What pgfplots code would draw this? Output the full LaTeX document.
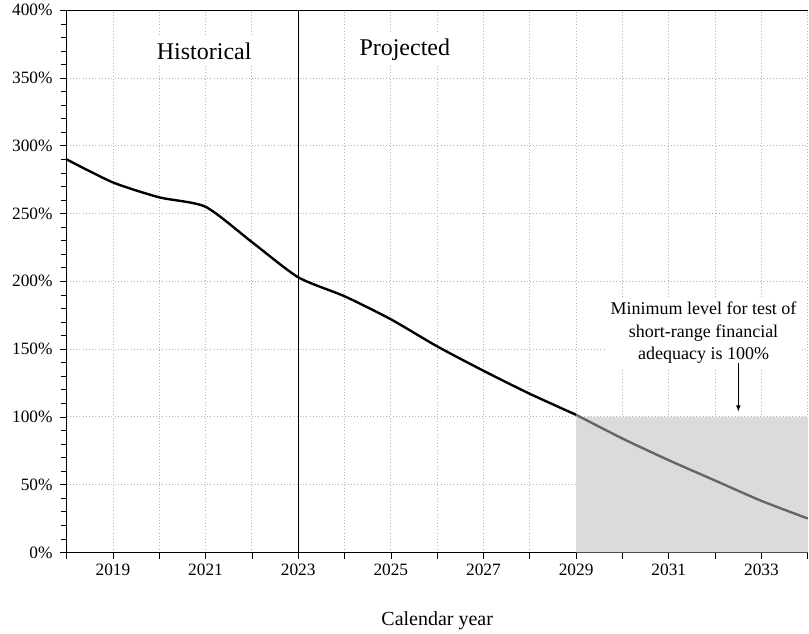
\documentclass[border=0pt]{standalone}
\usepackage{pgfplots}
\pgfplotsset{compat=1.18}
\usepackage{fontspec}
\setmainfont{Liberation Serif}

\begin{document}
\begin{tikzpicture}
\begin{axis}[
  scale only axis,
  width=556.5pt, height=407pt,
  xmin=2018, xmax=2034, ymin=0, ymax=400,
  axis x line*=bottom, axis y line*=left,
  axis line style={-, line width=0.8pt},
  xtick={2018,...,2034},
  xticklabels={,2019,,2021,,2023,,2025,,2027,,2029,,2031,,2033,},
  xticklabel style={inner xsep=0pt},
  ytick={0,50,...,400},
  yticklabel={\pgfmathprintnumber{\tick}\%},
  minor y tick num=4,
  tick align=outside,
  major tick length=5pt, minor tick length=4pt,
  tick style={black, line width=0.5pt},
  grid=major,
  major grid style={gray!60, dotted, line width=0.6pt},
  /pgf/number format/1000 sep={},
  /pgf/number format/assume math mode=true,
  ticklabel style={font=\fontsize{13}{15}\selectfont},
  yticklabel style={xshift=-2pt},
  xlabel={Calendar year},
  xlabel style={font=\fontsize{15}{17}\selectfont, yshift=-20pt},
  clip=false,
]
% shaded region below 100% from 2029
\addplot[fill=gray!28, draw=none] coordinates {(2029,0)(2029,100)(2034,100)(2034,0)} \closedcycle;

\draw[black, line width=0.6pt] (axis cs:2023,0) -- (axis cs:2023,400);
\draw[black, line width=0.8pt] (rel axis cs:0,1) -- (rel axis cs:1,1);

\addplot[black, line width=1.8pt, smooth, tension=0.4] coordinates {
  (2018,290)(2019,273)(2020,262)(2021,255)(2022,229)(2023,203)
  (2024,189)(2025,172)(2026,152)(2027,134)(2028,117)(2029,101.5)};
\addplot[black!60, line width=1.8pt, smooth, tension=0.4] coordinates {
  (2029,101.5)(2030,84)(2031,68)(2032,53)(2033,38)(2034,25)};

\node[fill=white, inner sep=4pt, font=\fontsize{18}{20}\selectfont] at (axis cs:2020.97,370) {Historical};
\node[fill=white, inner sep=4pt, font=\fontsize{18}{20}\selectfont] at (axis cs:2025.3,371) {Projected};
\node[fill=white, inner sep=4pt, align=center, font=\fontsize{13.5}{17}\selectfont] at (axis cs:2031.75,162) {Minimum level for test of\\short-range financial\\adequacy is 100\%};
\draw[-latex, black, line width=0.6pt] (axis cs:2032.5,140) -- (axis cs:2032.5,104);
\end{axis}
\path (current axis.south west) ++(-50pt,0pt);
\end{tikzpicture}
\end{document}
